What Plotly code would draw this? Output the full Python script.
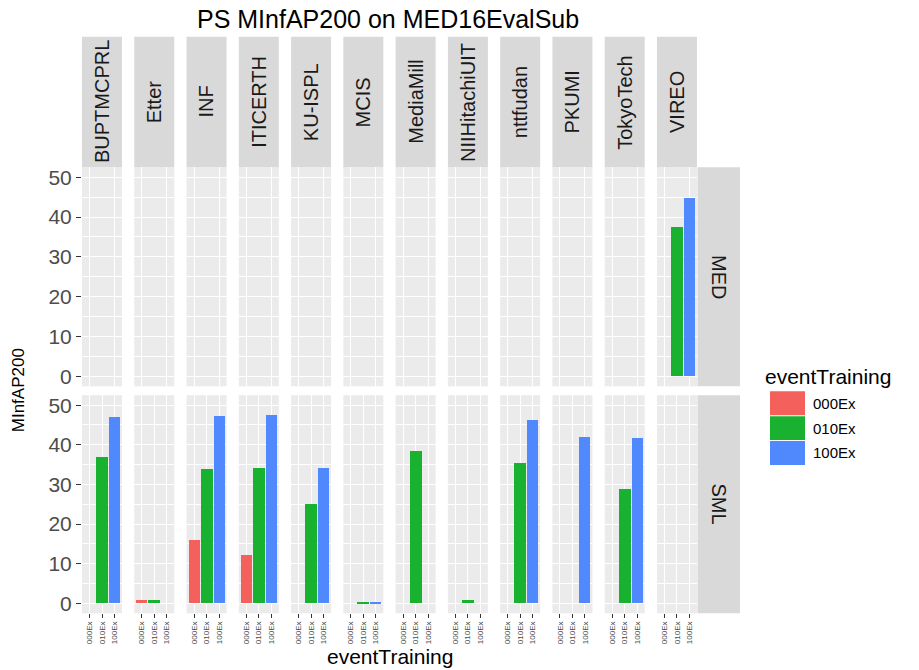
import plotly.graph_objects as go

# ---------------- data ----------------
teams = ["BUPTMCPRL", "Etter", "INF", "ITICERTH", "KU-ISPL", "MCIS", "MediaMill",
         "NIIHitachiUIT", "nttfudan", "PKUMI", "TokyoTech", "VIREO"]
rows = ["MED", "SML"]
levels = ["000Ex", "010Ex", "100Ex"]
level_colors = ["#F4605C", "#18B230", "#5088FD"]

med_000 = [None, None, None, None, None, None, None, None, None, None, None, None]
med_010 = [None, None, None, None, None, None, None, None, None, None, None, 37.5]
med_100 = [None, None, None, None, None, None, None, None, None, None, None, 44.8]

sml_000 = [None, 0.9, 15.9, 12.2, None, None, None, None, None, None, None, None]
sml_010 = [36.9, 0.9, 33.8, 34.2, 24.9, 0.4, 38.5, 0.7, 35.3, None, 28.8, None]
sml_100 = [46.9, None, 47.3, 47.5, 34.0, 0.2, None, None, 46.1, 41.8, 41.6, None]

y_ticks = [0, 10, 20, 30, 40, 50]

title = "PS MInfAP200 on MED16EvalSub"
x_title = "eventTraining"
y_title = "MInfAP200"
legend_title = "eventTraining"

# ---------------- geometry (pixels) ----------------
W, H = 919, 670
FONT = "Liberation Sans, Arial, sans-serif"


def fx(x):
    return x / W


def fy(y):
    return 1 - y / H


col_left0, col_step, col_w = 82.0, 52.27, 40.0
row_tops = [166.0, 395.0]
row_bots = [386.0, 614.0]
strip_top = 35.0
rstrip_l, rstrip_r = 697.5, 740.0

data_rows = [[med_000, med_010, med_100], [sml_000, sml_010, sml_100]]

fig = go.Figure()
layout = {}
shapes = []
annotations = []

for r, rname in enumerate(rows):
    for c, team in enumerate(teams):
        k = r * len(teams) + c + 1
        xs = "x" if k == 1 else f"x{k}"
        ys = "y" if k == 1 else f"y{k}"
        xa = "xaxis" if k == 1 else f"xaxis{k}"
        ya = "yaxis" if k == 1 else f"yaxis{k}"
        vals = [data_rows[r][i][c] for i in range(3)]
        fig.add_trace(go.Bar(
            x=levels, y=vals, marker=dict(color=level_colors, line=dict(width=0)),
            width=0.9, xaxis=xs, yaxis=ys, showlegend=False,
            hovertemplate="%{x}: %{y}<extra>" + team + " " + rname + "</extra>"))
        left = col_left0 + c * col_step
        right = left + col_w
        bottom_row = (r == len(rows) - 1)
        layout[xa] = dict(
            domain=[fx(left), fx(right)], anchor=ys, type="category",
            categoryorder="array", categoryarray=levels, range=[-0.6, 2.6],
            showgrid=True, gridcolor="white", gridwidth=1.1, zeroline=False,
            showline=False, fixedrange=True,
            ticks="outside" if bottom_row else "", ticklen=4, tickwidth=1,
            tickcolor="#333333", showticklabels=bottom_row, tickangle=-90,
            tickfont=dict(family=FONT, size=8, color="#4D4D4D"))
        first_col = (c == 0)
        layout[ya] = dict(
            domain=[fy(row_bots[r]), fy(row_tops[r])], anchor=xs,
            range=[-2.5, 52.5], tickmode="array", tickvals=y_ticks,
            showgrid=True, gridcolor="white", gridwidth=1.1,
            zeroline=False, showline=False, fixedrange=True,
            minor=dict(dtick=5, tick0=0, showgrid=True, gridcolor="white",
                       gridwidth=0.5, ticks=""),
            ticks="outside" if first_col else "", ticklen=5, tickwidth=1,
            tickcolor="#333333", showticklabels=first_col,
            tickfont=dict(family=FONT, size=21, color="#4D4D4D"))

# top strips
for c, team in enumerate(teams):
    left = col_left0 + c * col_step
    right = left + col_w
    shapes.append(dict(type="rect", xref="paper", yref="paper",
                       x0=fx(left), x1=fx(right), y0=fy(row_tops[0]), y1=fy(strip_top),
                       fillcolor="#D9D9D9", line=dict(width=0), layer="below"))
    annotations.append(dict(xref="paper", yref="paper", x=fx((left + right) / 2),
                            y=fy((strip_top + row_tops[0]) / 2), text=team, showarrow=False,
                            textangle=-90, xanchor="center", yanchor="middle",
                            font=dict(family=FONT, size=20, color="#1A1A1A")))

# right strips
for r, rname in enumerate(rows):
    shapes.append(dict(type="rect", xref="paper", yref="paper",
                       x0=fx(rstrip_l), x1=fx(rstrip_r), y0=fy(row_bots[r]), y1=fy(row_tops[r]),
                       fillcolor="#D9D9D9", line=dict(width=0), layer="below"))
    annotations.append(dict(xref="paper", yref="paper", x=fx((rstrip_l + rstrip_r) / 2),
                            y=fy((row_tops[r] + row_bots[r]) / 2), text=rname, showarrow=False,
                            textangle=90, xanchor="center", yanchor="middle",
                            font=dict(family=FONT, size=20, color="#1A1A1A")))

# titles
annotations.append(dict(xref="paper", yref="paper", x=fx(388), y=fy(17), text=title,
                        showarrow=False, xanchor="center", yanchor="middle",
                        font=dict(family=FONT, size=25, color="black")))
annotations.append(dict(xref="paper", yref="paper", x=fx(390), y=fy(657), text=x_title,
                        showarrow=False, xanchor="center", yanchor="middle",
                        font=dict(family=FONT, size=21, color="black")))
annotations.append(dict(xref="paper", yref="paper", x=fx(18), y=fy(390), text=y_title,
                        showarrow=False, textangle=-90, xanchor="center", yanchor="middle",
                        font=dict(family=FONT, size=17, color="black")))

# legend (drawn manually, ggplot-style keys)
annotations.append(dict(xref="paper", yref="paper", x=fx(763), y=fy(376), text=legend_title,
                        showarrow=False, xanchor="left", yanchor="middle",
                        font=dict(family=FONT, size=21, color="black")))
key_tops = [391.0, 416.0, 441.0]
for i, lv in enumerate(levels):
    t = key_tops[i]
    shapes.append(dict(type="rect", xref="paper", yref="paper",
                       x0=fx(770), x1=fx(805), y0=fy(t + 24), y1=fy(t),
                       fillcolor=level_colors[i], line=dict(width=0)))
    annotations.append(dict(xref="paper", yref="paper", x=fx(811), y=fy(t + 12), text=lv,
                            showarrow=False, xanchor="left", yanchor="middle",
                            font=dict(family=FONT, size=15, color="black")))

fig.update_layout(
    width=W, height=H, margin=dict(l=0, r=0, t=0, b=0),
    paper_bgcolor="white", plot_bgcolor="#EBEBEB",
    bargap=0, showlegend=False,
    font=dict(family=FONT),
    shapes=shapes, annotations=annotations,
    **layout)

fig.write_html("out.html")
